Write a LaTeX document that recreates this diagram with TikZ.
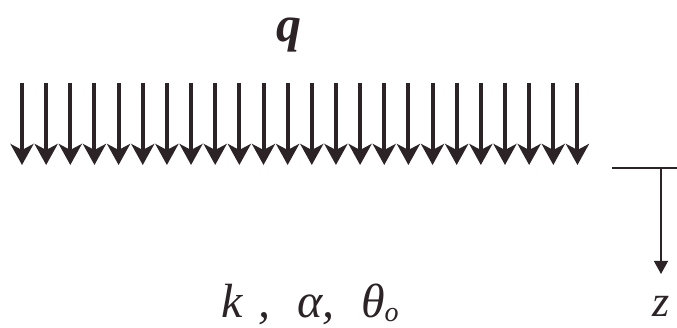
\documentclass[tikz,border=0pt]{standalone}
\usepackage{fontspec}
\setmainfont{Liberation Serif}
\usetikzlibrary{arrows.meta}
\definecolor{ink}{HTML}{2B2326}
\tikzset{
  load/.style={draw=ink, line width=4pt, -{Stealth[length=21pt,width=23pt,inset=6pt,fill=ink]}},
  axisline/.style={draw=ink, line width=1.4pt},
  axisarrow/.style={draw=ink, line width=1.4pt, -{Triangle[length=13pt,width=14pt,fill=ink]}},
  lbl/.style={text=ink, inner sep=0pt}
}
\begin{document}
\begin{tikzpicture}[x=1pt,y=1pt]
\useasboundingbox (0,0) rectangle (677,328);
\foreach \i in {0,...,23}{
  \draw[load] ({22+24.15*\i},245) -- ({22+24.15*\i},163);
}
\node[lbl, font=\fontsize{50}{50}\selectfont\itshape\bfseries] (q) at (289,293) {q};
\coordinate (h1) at (612,160);
\coordinate (h2) at (677,160);
\coordinate (o) at (661,160);
\coordinate (zt) at (661,54);
\draw[axisline] (h1) -- (h2);
\draw[axisarrow] (o) -- (zt);
\node[lbl, font=\fontsize{44}{44}\selectfont\itshape] (z) at (661,22) {z};
\node[lbl, font=\fontsize{48}{48}\selectfont\itshape, anchor=base] (par) at (310,10) {k\,\,,\;\;α,\;\;θ\raisebox{-4pt}{\fontsize{28}{28}\selectfont o}};
\end{tikzpicture}
\end{document}
